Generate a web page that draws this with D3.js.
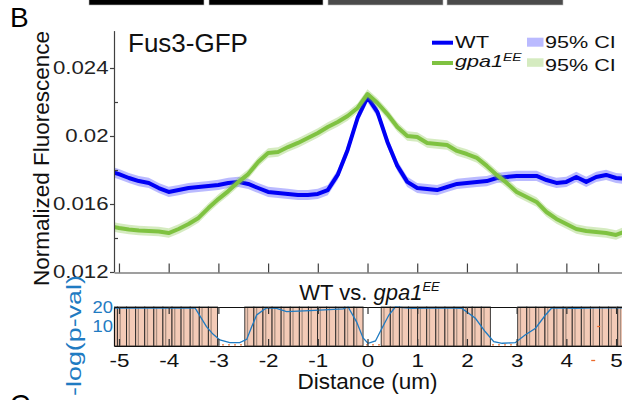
<!DOCTYPE html>
<html>
<head>
<meta charset="utf-8">
<script src="https://cdn.jsdelivr.net/npm/d3@7"></script>
<style>
  html, body { margin: 0; padding: 0; background: #fff; }
  svg { display: block; font-family: "Liberation Sans", Arial, Helvetica, sans-serif; }
</style>
</head>
<body>
<svg id="chart" width="622" height="400"></svg>
<script>
// ---------------- data ----------------
// distance along the cell (um)
const distance = [-5.2, -5.0, -4.8, -4.6, -4.4, -4.2, -4.0, -3.8, -3.6, -3.4, -3.2, -3.0, -2.8, -2.6,
  -2.4, -2.2, -2.0, -1.8, -1.6, -1.4, -1.2, -1.0, -0.8, -0.6, -0.4, -0.2, 0.0, 0.2, 0.4, 0.6, 0.8,
  1.0, 1.2, 1.4, 1.6, 1.8, 2.0, 2.2, 2.4, 2.6, 2.8, 3.0, 3.2, 3.4, 3.6, 3.8, 4.0, 4.2, 4.4, 4.6,
  4.8, 5.0, 5.2];

// mean normalized Fus3-GFP fluorescence, WT
const wtMean = [0.01794, 0.01776, 0.01753, 0.01735, 0.01724, 0.01694, 0.01671, 0.01682, 0.01694,
  0.01700, 0.01706, 0.01712, 0.01724, 0.01730, 0.01718, 0.01694, 0.01671, 0.01665, 0.01659, 0.01653,
  0.01653, 0.01659, 0.01682, 0.01771, 0.01918, 0.02106, 0.02229, 0.02141, 0.01965, 0.01824, 0.01730,
  0.01694, 0.01688, 0.01682, 0.01700, 0.01718, 0.01724, 0.01730, 0.01735, 0.01753, 0.01759, 0.01765,
  0.01765, 0.01765, 0.01741, 0.01724, 0.01730, 0.01759, 0.01730, 0.01759, 0.01771, 0.01753, 0.01747];

// mean normalized Fus3-GFP fluorescence, gpa1EE
const gpaMean = [0.01471, 0.01459, 0.01450, 0.01444, 0.01441, 0.01438, 0.01429, 0.01453, 0.01482,
  0.01518, 0.01576, 0.01629, 0.01676, 0.01729, 0.01776, 0.01847, 0.01900, 0.01906, 0.01935, 0.01959,
  0.01988, 0.02018, 0.02053, 0.02082, 0.02118, 0.02165, 0.02247, 0.02194, 0.02129, 0.02053, 0.02000,
  0.01994, 0.01959, 0.01953, 0.01947, 0.01912, 0.01894, 0.01871, 0.01824, 0.01771, 0.01724, 0.01671,
  0.01641, 0.01612, 0.01553, 0.01512, 0.01482, 0.01453, 0.01441, 0.01435, 0.01429, 0.01418, 0.01441];

// half-width of the 95% confidence band
const wtCI = 0.0003;
const gpaCI = 0.00028;

// -log(p-value) of WT vs. gpa1EE along the cell
const pvalDistance = [-5.2, -3.47, -3.24, -3.11, -2.97, -2.77, -2.57, -2.43, -2.33, -2.23, -2.03,
  -1.83, -1.63, -1.16, -0.49, -0.39, -0.22, -0.09, 0.01, 0.16, 0.29, 0.43, 0.56, 0.90, 1.56, 1.90,
  2.17, 2.37, 2.54, 2.71, 2.97, 3.17, 3.38, 3.58, 3.71, 4.18, 4.58, 5.2];
const pvalLog = [19.5, 19.5, 9.9, 6.1, 3.1, 1.7, 1.7, 3.4, 9.9, 15.9, 19.6, 19.3, 17.6, 18.1, 19.0,
  20.0, 12.4, 4.1, 1.4, 2.6, 9.1, 15.9, 20.0, 19.3, 19.6, 19.3, 14.2, 7.3, 2.2, 1.4, 1.7, 5.6, 9.1,
  15.9, 19.6, 19.3, 19.6, 19.6];

// significance test bins (left edges, um) and whether the bin is significant
const binWidth = 0.183;
const binLeft = [-5.214, -5.031, -4.848, -4.665, -4.482, -4.299, -4.116, -3.933, -3.750, -3.567,
  -3.384, -3.201, -3.018, -2.835, -2.652, -2.469, -2.286, -2.103, -1.920, -1.737, -1.554, -1.371,
  -1.188, -1.005, -0.822, -0.639, -0.456, -0.273, -0.090, 0.093, 0.276, 0.459, 0.642, 0.825, 1.008,
  1.191, 1.374, 1.557, 1.740, 1.923, 2.106, 2.289, 2.472, 2.655, 2.838, 3.021, 3.204, 3.387, 3.570,
  3.753, 3.936, 4.119, 4.302, 4.485, 4.668, 4.851, 5.034];
const binSignificant = [1, 1, 1, 1, 1, 1, 1, 1, 1, 1, 1, 1, 0, 0, 0, 1, 1, 1, 1, 1, 1, 1, 1, 1, 1, 1,
  1, 1, 0, 0, 1, 1, 1, 1, 1, 1, 1, 1, 1, 1, 1, 1, 0, 0, 0, 1, 1, 1, 1, 1, 1, 1, 1, 1, 1, 1, 1];

// significance threshold on the -log(p) scale
const pvalThreshold = 0.6;

// axis ticks
const mainXTicks = [-5, -4, -3, -2, -1, 0, 1, 2, 3, 4, 4.64];
const yMajorTicks = [0.012, 0.016, 0.02, 0.024];
const yTickLabels = ["0.012", "0.016", "0.02", "0.024"];
const yMinorTicks = [0.014, 0.018, 0.022];
const pvalXTicks = [-5, -4, -3, -2, -1, 0, 1, 2, 3, 4, 5];
const pvalXTickLabels = ["-5", "-4", "-3", "-2", "-1", "0", "1", "2", "3", "4", "5"];
const pvalYTicks = [10, 20];

// ---------------- drawing ----------------
const svg = d3.select("#chart");
const BLUE = "#0000f5", BLUE_BAND = "rgba(40,40,255,0.32)";
const GREEN = "#7fc241", GREEN_BAND = "rgba(127,194,65,0.33)";
const PBLUE = "#1f7bc2", AXIS = "#404040", SALMON = "#f4cbb7";

const x = d3.scaleLinear().domain([-5.1, 5.2]).range([114, 626]);
const y = d3.scaleLinear().domain([0.012, 0.0262]).range([272, 30.6]);
const yp = d3.scaleLinear().domain([0, 20]).range([346, 307]);

const defs = svg.append("defs");
defs.append("clipPath").attr("id", "clipMain")
  .append("rect").attr("x", 114).attr("y", 0).attr("width", 512).attr("height", 272);
defs.append("clipPath").attr("id", "clipP")
  .append("rect").attr("x", 114).attr("y", 305).attr("width", 512).attr("height", 41);

// strip of bars from the panel above
const strip = svg.append("g");
[[89, 204, "#000"], [209, 323, "#000"], [328, 443, "#4b4b4b"], [447, 563, "#4b4b4b"]].forEach(b => {
  strip.append("rect").attr("x", b[0]).attr("y", -1).attr("width", b[1] - b[0]).attr("height", 6)
    .attr("fill", b[2]).attr("stroke", "#bbb").attr("stroke-width", 0.6);
});

// panel letters
svg.append("text").attr("x", 10).attr("y", 27).attr("font-size", 28).attr("fill", "#000").text("B");
svg.append("text").attr("x", 10).attr("y", 414).attr("font-size", 28).attr("fill", "#000").text("C");

// ---- main plot: confidence bands and mean profiles ----
const plot = svg.append("g").attr("clip-path", "url(#clipMain)");
const band = (mean, ci) => d3.area()
  .x((d, i) => x(distance[i]))
  .y0((d, i) => y(mean[i] - ci))
  .y1((d, i) => y(mean[i] + ci));
const line = mean => d3.line().x((d, i) => x(distance[i])).y((d, i) => y(mean[i]));

plot.append("path").attr("d", band(wtMean, wtCI)(distance)).attr("fill", BLUE_BAND);
plot.append("path").attr("d", line(wtMean)(distance)).attr("fill", "none")
  .attr("stroke", BLUE).attr("stroke-width", 4).attr("stroke-linejoin", "round");
plot.append("path").attr("d", band(gpaMean, gpaCI)(distance)).attr("fill", GREEN_BAND);
plot.append("path").attr("d", line(gpaMean)(distance)).attr("fill", "none")
  .attr("stroke", GREEN).attr("stroke-width", 4).attr("stroke-linejoin", "round");

// ---- main plot axes ----
const gy = svg.append("g").attr("transform", "translate(114,0)")
  .call(d3.axisLeft(y).tickValues(yMajorTicks).tickSize(4).tickSizeOuter(0)
    .tickFormat((d, i) => yTickLabels[i]));
gy.select(".domain").attr("stroke", AXIS).attr("stroke-width", 1.2);
gy.selectAll(".tick line").attr("stroke", AXIS).attr("stroke-width", 1.2);
gy.selectAll(".tick text").attr("x", -4.6).attr("dy", "0.3em")
  .attr("transform", "scale(1.2,1)")
  .attr("font-size", 18.5).attr("font-family", null).attr("fill", "#222");

const gyMinor = svg.append("g").attr("transform", "translate(114,0)")
  .call(d3.axisLeft(y).tickValues(yMinorTicks).tickSize(-4).tickFormat(""));
gyMinor.select(".domain").remove();
gyMinor.selectAll(".tick line").attr("stroke", AXIS).attr("stroke-width", 1.2);

const gx = svg.append("g").attr("transform", "translate(0,272.5)")
  .call(d3.axisBottom(x).tickValues(mainXTicks).tickSize(-9).tickSizeOuter(0).tickFormat(""));
gx.select(".domain").attr("stroke", AXIS).attr("stroke-width", 1.2);
gx.selectAll(".tick line").attr("stroke", AXIS).attr("stroke-width", 1.2);

// title inside the plot
svg.append("text").attr("x", 128).attr("y", 51.5).attr("font-size", 26).attr("fill", "#111")
  .text("Fus3-GFP");

// y-axis title
svg.append("text").attr("transform", "translate(49,158.5) rotate(-90)")
  .attr("text-anchor", "middle").attr("font-size", 22.5).attr("fill", "#111")
  .text("Normalized Fluorescence");

// ---- legend ----
const lg = svg.append("g");
lg.append("line").attr("x1", 432).attr("x2", 453).attr("y1", 42.7).attr("y2", 42.7)
  .attr("stroke", BLUE).attr("stroke-width", 4);
lg.append("line").attr("x1", 432).attr("x2", 453).attr("y1", 63).attr("y2", 63)
  .attr("stroke", GREEN).attr("stroke-width", 4);
lg.append("text").attr("transform", "translate(455,48) scale(1.29,1)")
  .attr("font-size", 17).attr("fill", "#111").text("WT");
const gpaLabel = lg.append("text").attr("transform", "translate(455,67) scale(1.27,1)")
  .attr("font-size", 17).attr("fill", "#111").attr("font-style", "italic");
gpaLabel.append("tspan").text("gpa1");
gpaLabel.append("tspan").attr("font-size", 11).attr("dy", -6.5).text("EE");
lg.append("rect").attr("x", 527).attr("y", 37.7).attr("width", 16.5).attr("height", 9)
  .attr("fill", BLUE_BAND);
lg.append("rect").attr("x", 527).attr("y", 58.3).attr("width", 16.5).attr("height", 8.5)
  .attr("fill", GREEN_BAND);
lg.append("text").attr("transform", "translate(545,48) scale(1.27,1)")
  .attr("font-size", 17).attr("fill", "#111").text("95% CI");
lg.append("text").attr("transform", "translate(545,70.5) scale(1.27,1)")
  .attr("font-size", 17).attr("fill", "#111").text("95% CI");

// ---- comparison panel: WT vs. gpa1EE ----
const cmpTitle = svg.append("text").attr("x", 369.5).attr("y", 300)
  .attr("text-anchor", "middle").attr("font-size", 22).attr("fill", "#111");
cmpTitle.append("tspan").text("WT vs. ");
cmpTitle.append("tspan").attr("font-style", "italic").text("gpa1");
cmpTitle.append("tspan").attr("font-style", "italic").attr("font-size", 13).attr("dy", -9).text("EE");

const pp = svg.append("g").attr("clip-path", "url(#clipP)");

// threshold line (shows through where bins are not significant)
pp.append("line").attr("x1", 114).attr("x2", 626)
  .attr("y1", yp(pvalThreshold)).attr("y2", yp(pvalThreshold))
  .attr("stroke", "#ec7a3c").attr("stroke-width", 1.4).attr("stroke-dasharray", "2,4");

// significant bins
const sigBins = binLeft.filter((d, i) => binSignificant[i]);
pp.selectAll("rect.bin").data(sigBins).join("rect").attr("class", "bin")
  .attr("x", d => x(d)).attr("y", yp(20))
  .attr("width", d => x(d + binWidth) - x(d)).attr("height", yp(0) - yp(20))
  .attr("fill", SALMON).attr("stroke", "#1c1c1c").attr("stroke-width", 1)
  .attr("stroke-opacity", 0.85);
pp.selectAll("line.binmid").data(sigBins).join("line").attr("class", "binmid")
  .attr("x1", d => x(d + binWidth * 0.3)).attr("x2", d => x(d + binWidth * 0.3))
  .attr("y1", yp(20)).attr("y2", yp(0))
  .attr("stroke", "#6e5e56").attr("stroke-width", 1.3).attr("stroke-opacity", 0.55);

// -log(p) curve
pp.append("path")
  .attr("d", d3.line().x((d, i) => x(pvalDistance[i])).y((d, i) => yp(pvalLog[i]))(pvalDistance))
  .attr("fill", "none").attr("stroke", PBLUE).attr("stroke-width", 1.3);

// orange marker left over at the right edge
svg.append("line").attr("x1", x(4.62)).attr("x2", x(4.68)).attr("y1", yp(10)).attr("y2", yp(10))
  .attr("stroke", "#ec6a2c").attr("stroke-width", 1.3);
svg.append("line").attr("x1", x(4.5)).attr("x2", x(4.58)).attr("y1", 360.5).attr("y2", 360.5)
  .attr("stroke", "#ec6a2c").attr("stroke-width", 1.3);

// panel frame and axes
const gpTop = svg.append("g").attr("transform", "translate(0,307)")
  .call(d3.axisTop(x).tickValues(pvalXTicks).tickSize(-7).tickSizeOuter(0).tickFormat(""));
gpTop.select(".domain").attr("stroke", "#111").attr("stroke-width", 1.2);
gpTop.selectAll(".tick line").attr("stroke", "#333").attr("stroke-width", 1.2);

const gpx = svg.append("g").attr("transform", "translate(0,346)")
  .call(d3.axisBottom(x).tickValues(pvalXTicks).tickSize(-7).tickSizeOuter(0)
    .tickFormat((d, i) => pvalXTickLabels[i]));
gpx.select(".domain").attr("stroke", "#111").attr("stroke-width", 1.2);
gpx.selectAll(".tick line").attr("stroke", "#333").attr("stroke-width", 1.2);
gpx.selectAll(".tick text").attr("y", 21).attr("dy", null)
  .attr("transform", "scale(1.18,1)")
  .attr("font-size", 19).attr("font-family", null).attr("fill", "#111");

const gpy = svg.append("g").attr("transform", "translate(114,0)")
  .call(d3.axisLeft(yp).tickValues(pvalYTicks).tickSize(0).tickSizeOuter(0));
gpy.select(".domain").attr("stroke", "#111").attr("stroke-width", 1.2);
gpy.selectAll(".tick text").attr("x", -1).attr("dy", "0.34em")
  .attr("transform", "scale(1.15,1)")
  .attr("font-size", 16).attr("font-family", null).attr("fill", PBLUE);

// y-axis title of the comparison panel
svg.append("text").attr("transform", "translate(80.5,275) rotate(-90) scale(1.28,1)")
  .attr("text-anchor", "end").attr("font-size", 21).attr("fill", PBLUE)
  .text("-log(p-val)");

// x-axis title
svg.append("text").attr("x", 367.5).attr("y", 389).attr("text-anchor", "middle")
  .attr("font-size", 22.5).attr("fill", "#111").text("Distance (um)");
</script>
</body>
</html>
